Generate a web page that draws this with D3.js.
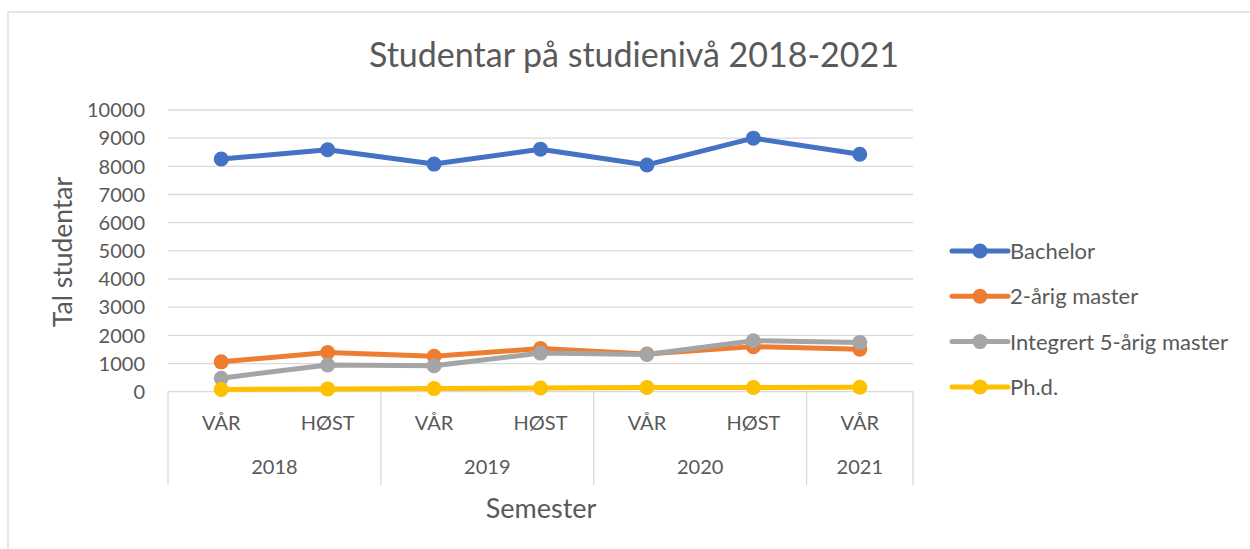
<!DOCTYPE html>
<html>
<head>
    <meta charset="utf-8">
    <title>Studentar på studienivå 2018-2021</title>
    <script type="text/javascript" src="https://cdn.jsdelivr.net/npm/d3@7"></script>
    <style type="text/css">
        html, body { margin: 0; background: #fff; }
        svg { display: block; font-family: Lato, "Open Sans", sans-serif; }
        text { fill: #595959; }
        .grid line { stroke: #d9d9d9; stroke-width: 1.3; }
        .sep { stroke: #d9d9d9; stroke-width: 1.3; }
    </style>
</head>
<body>
<script type="text/javascript">
    var semesters = ["VÅR", "HØST", "VÅR", "HØST", "VÅR", "HØST", "VÅR"];
    var years = ["2018", "2018", "2019", "2019", "2020", "2020", "2021"];
    var yTicks = [0, 1000, 2000, 3000, 4000, 5000, 6000, 7000, 8000, 9000, 10000];

    var bachelor = [8260, 8590, 8080, 8610, 8050, 9000, 8430];
    var master2 = [1060, 1390, 1260, 1530, 1340, 1600, 1510];
    var integrert = [480, 950, 920, 1370, 1320, 1810, 1750];
    var phd = [80, 100, 110, 130, 150, 150, 160];

    var seriesNames = ["Bachelor", "2-årig master", "Integrert 5-årig master", "Ph.d."];
    var colors = ["#4472c4", "#ed7d31", "#a5a5a5", "#ffc000"];
    var series = [bachelor, master2, integrert, phd];

    var w = 1250, h = 549;
    var plotLeft = 168, plotRight = 913, plotTop = 110, plotBottom = 391.7;

    var svg = d3.select("body").append("svg")
        .attr("width", w)
        .attr("height", h);

    // outer chart frame
    svg.append("rect")
        .attr("x", 8).attr("y", 12)
        .attr("width", 1260).attr("height", 560)
        .attr("fill", "none")
        .attr("stroke", "#d9d9d9")
        .attr("stroke-width", 1.3);

    var x = d3.scaleBand()
        .domain(d3.range(semesters.length))
        .range([plotLeft, plotRight])
        .padding(0);

    var y = d3.scaleLinear()
        .domain([0, 10000])
        .range([plotBottom, plotTop]);

    // gridlines + y labels
    var grid = svg.append("g").attr("class", "grid");
    grid.selectAll("line").data(yTicks).enter().append("line")
        .attr("x1", plotLeft).attr("x2", plotRight)
        .attr("y1", function (d) {return y(d);})
        .attr("y2", function (d) {return y(d);});

    svg.append("g").selectAll("text").data(yTicks).enter().append("text")
        .attr("x", 145)
        .attr("y", function (d) {return y(d);})
        .attr("dy", "0.36em")
        .attr("text-anchor", "end")
        .style("font-size", "20px")
        .text(function (d) {return d;});

    // category axis: semester + year levels
    var groups = [];
    years.forEach(function (yr, i) {
        if (!groups.length || groups[groups.length - 1].year !== yr)
            groups.push({year: yr, start: i, end: i});
        else
            groups[groups.length - 1].end = i;
    });

    var seps = [plotLeft].concat(groups.map(function (g) {return x(g.end) + x.bandwidth();}));
    svg.append("g").selectAll("line").data(seps).enter().append("line")
        .attr("class", "sep")
        .attr("x1", function (d) {return d;})
        .attr("x2", function (d) {return d;})
        .attr("y1", plotBottom)
        .attr("y2", 485);

    svg.append("g").selectAll("text").data(semesters).enter().append("text")
        .attr("x", function (d, i) {return x(i) + x.bandwidth() / 2;})
        .attr("y", 423)
        .attr("dy", "0.36em")
        .attr("text-anchor", "middle")
        .style("font-size", "20px")
        .text(function (d) {return d;});

    svg.append("g").selectAll("text").data(groups).enter().append("text")
        .attr("x", function (d) {return (x(d.start) + x(d.end) + x.bandwidth()) / 2;})
        .attr("y", 467)
        .attr("dy", "0.36em")
        .attr("text-anchor", "middle")
        .style("font-size", "20px")
        .text(function (d) {return d.year;});

    // titles
    svg.append("text")
        .attr("x", 634).attr("y", 55)
        .attr("dy", "0.36em")
        .attr("text-anchor", "middle")
        .style("font-size", "34px")
        .text("Studentar på studienivå 2018-2021");

    svg.append("text")
        .attr("x", 541).attr("y", 508)
        .attr("dy", "0.36em")
        .attr("text-anchor", "middle")
        .style("font-size", "27px")
        .text("Semester");

    svg.append("text")
        .attr("transform", "translate(62,252) rotate(-90)")
        .attr("dy", "0.36em")
        .attr("text-anchor", "middle")
        .style("font-size", "26.5px")
        .text("Tal studentar");

    // lines
    var line = d3.line()
        .x(function (d, i) {return x(i) + x.bandwidth() / 2;})
        .y(function (d) {return y(d);});

    series.forEach(function (vals, s) {
        var g = svg.append("g");
        g.append("path")
            .datum(vals)
            .attr("d", line)
            .attr("fill", "none")
            .attr("stroke", colors[s])
            .attr("stroke-width", 5)
            .attr("stroke-linejoin", "round");
        g.selectAll("circle").data(vals).enter().append("circle")
            .attr("cx", function (d, i) {return x(i) + x.bandwidth() / 2;})
            .attr("cy", function (d) {return y(d);})
            .attr("r", 7.5)
            .attr("fill", colors[s]);
    });

    // legend
    var legend = svg.append("g").selectAll("g").data(seriesNames).enter().append("g")
        .attr("transform", function (d, i) {return "translate(952," + (251 + i * 45.3) + ")";});
    legend.append("line")
        .attr("x1", 0).attr("x2", 56)
        .attr("stroke", function (d, i) {return colors[i];})
        .attr("stroke-width", 5)
        .attr("stroke-linecap", "round");
    legend.append("circle")
        .attr("cx", 28).attr("r", 7.5)
        .attr("fill", function (d, i) {return colors[i];});
    legend.append("text")
        .attr("x", 58)
        .attr("dy", "0.36em")
        .style("font-size", "22px")
        .text(function (d) {return d;});
</script>
</body>
</html>
